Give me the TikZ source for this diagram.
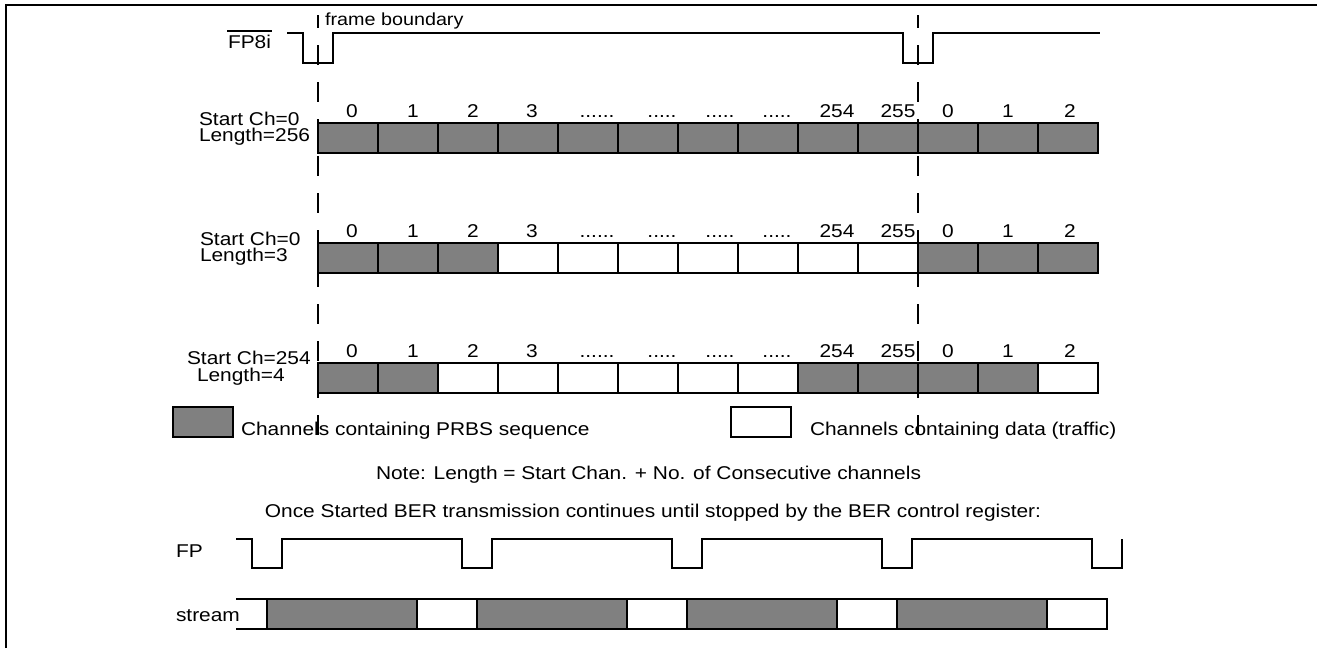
\documentclass[tikz,border=0pt]{standalone}
\usepackage{fontspec}
\setmainfont{Liberation Sans}[FakeStretch=1.13]
\definecolor{prbs}{RGB}{128,128,128}
\newcommand\dotssix{......}
\newcommand\dotsfive{.....}
\begin{document}
\begin{tikzpicture}[x=1pt,y=-1pt,line width=2pt,
  lbl/.style={inner sep=0pt,font=\fontsize{18.5}{21}\selectfont,anchor=base west},
  num/.style={inner sep=0pt,font=\fontsize{18.5}{21}\selectfont,anchor=base},
  wave/.style={line width=2pt,line join=miter},
  cellbox/.style={line width=2pt},
  fbline/.style={line width=2pt,dash pattern=on 20pt off 17pt,dash phase=7pt}]
\useasboundingbox (0,0) rectangle (1317,648);
% frame
\draw[line width=2pt] (6,648) -- (6,5) -- (1317,5);
% FP8i
\node[lbl] (fp8i) at (227,48) {FP8i};
\coordinate (ol) at (0,31);
\draw[line width=1.5pt] (fp8i.west |- ol) -- (fp8i.east |- ol);
\node[lbl,font=\fontsize{17.5}{21}\selectfont] (fb) at (324,25) {frame boundary};
\draw[wave] (287,33) -- (303,33) -- (303,63) -- (333,63) -- (333,33) -- (903,33) -- (903,63) -- (933,63) -- (933,33) -- (1100,33);
% rows of channels
\foreach \r in {123,243,363}
  \foreach \i in {0,...,12}
    \draw[cellbox,fill=white] ({318+60*\i},\r) rectangle ++(60,30);
\foreach \i in {0,...,12}
  \draw[cellbox,fill=prbs] ({318+60*\i},123) rectangle ++(60,30);
\foreach \i in {0,1,2,10,11,12}
  \draw[cellbox,fill=prbs] ({318+60*\i},243) rectangle ++(60,30);
\foreach \i in {0,1,8,9,10,11}
  \draw[cellbox,fill=prbs] ({318+60*\i},363) rectangle ++(60,30);
% channel numbers
\foreach \y/\rw in {117/a,237/b,357/c}
  \foreach \x/\t [count=\k] in {352/0,413/1,473/2,532/3,597/\dotssix,662/\dotsfive,720/\dotsfive,777/\dotsfive,837/254,898/255,948/0,1008/1,1070/2}
    \node[num] (n\rw\k) at (\x,\y) {\t};
% row labels
\node[lbl] (s1) at (198,125) {Start Ch=0};
\node[lbl] (l1) at (198,141) {Length=256};
\node[lbl] (s2) at (199,245) {Start Ch=0};
\node[lbl] (l2) at (199,261) {Length=3};
\node[lbl] (s3) at (186,364) {Start Ch=254};
\node[lbl] (l3) at (196,381) {Length=4};
% frame boundary dashed lines
\draw[fbline] (318,15) -- (318,438);
\draw[fbline] (918,15) -- (918,438);
% legend
\draw[cellbox,fill=prbs] (173,407) rectangle (233,437);
\node[lbl] (lg1) at (240,435) {Channels containing PRBS sequence};
\draw[cellbox] (731,407) rectangle (791,437);
\node[lbl] (lg2) at (809,435) {Channels containing data (traffic)};
% notes
\node[lbl] (note) at (375,479) {Note: Length = Start Chan. + No. of Consecutive channels};
\node[num] (once) at (653,517) {Once Started BER transmission continues until stopped by the BER control register:};
% FP
\node[lbl] (fp) at (175,557) {FP};
\draw[wave] (236,539) -- (252,539) -- (252,568) -- (282,568) -- (282,539)
  -- (462,539) -- (462,568) -- (492,568) -- (492,539)
  -- (672,539) -- (672,568) -- (702,568) -- (702,539)
  -- (882,539) -- (882,568) -- (912,568) -- (912,539)
  -- (1092,539) -- (1092,568) -- (1122,568) -- (1122,539);
% stream
\node[lbl] (st) at (175,621) {stream};
\foreach \a in {267,477,687,897}
  \fill[prbs] (\a,599) rectangle ++(150,30);
\draw[cellbox] (236,599) -- (1107,599) -- (1107,629) -- (236,629);
\foreach \a in {267,417,477,627,687,837,897,1047}
  \draw[cellbox] (\a,599) -- (\a,629);
\end{tikzpicture}
\end{document}
